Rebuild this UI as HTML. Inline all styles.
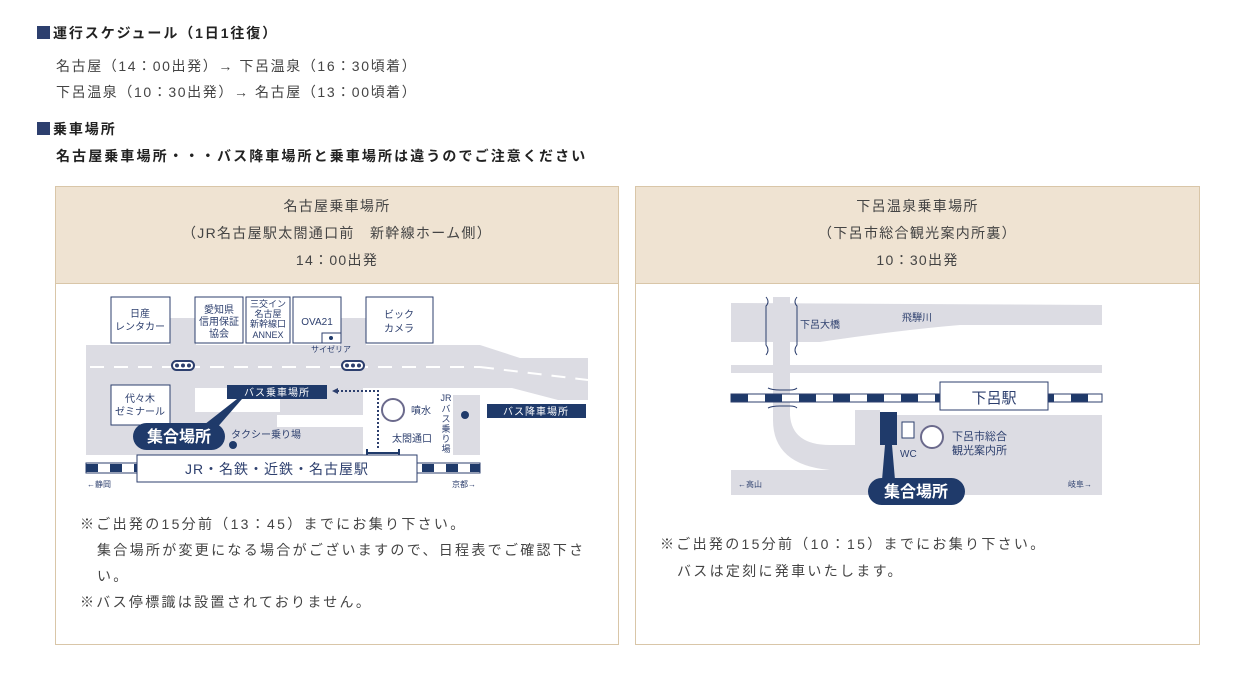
<!DOCTYPE html>
<html><head><meta charset="utf-8"><style>
body{margin:0;width:1235px;height:684px;background:#fff;position:relative;font-family:"Liberation Sans","Noto Sans CJK JP",sans-serif;color:#333;overflow:hidden}
.a{position:absolute;white-space:nowrap}
.h{font-weight:bold;font-size:14px;color:#222;letter-spacing:1.9px}
.sq{display:inline-block;width:13px;height:13px;background:#2d3f6e;vertical-align:-1px;margin-right:3px}
.t{font-size:14px;color:#444;letter-spacing:1.6px}
.box{position:absolute;border:1px solid #d9c6a8;background:#fff}
.hd{position:absolute;left:0;right:0;top:0;height:90px;background:#efe3d2;border-bottom:1px solid #d9c6a8;text-align:center;font-size:14px;color:#444;line-height:27px;padding-top:6px;letter-spacing:1.3px}
.n{font-size:14px;color:#444;letter-spacing:2.3px}
</style></head><body>
<div class="a h" style="left:37px;top:23px"><span class="sq"></span>運行スケジュール（1日1往復）</div>
<div class="a t" style="left:56px;top:56px">名古屋（14：00出発）→ 下呂温泉（16：30頃着）</div>
<div class="a t" style="left:56px;top:82px">下呂温泉（10：30出発）→ 名古屋（13：00頃着）</div>
<div class="a h" style="left:37px;top:119px"><span class="sq"></span>乗車場所</div>
<div class="a h" style="left:56px;top:146px;letter-spacing:2.1px">名古屋乗車場所・・・バス降車場所と乗車場所は違うのでご注意ください</div>

<div class="box" style="left:55px;top:186px;width:562px;height:457px">
<div class="hd">名古屋乗車場所<br>（JR名古屋駅太閤通口前　新幹線ホーム側）<br>14：00出発</div>
</div>
<div class="box" style="left:635px;top:186px;width:563px;height:457px">
<div class="hd">下呂温泉乗車場所<br>（下呂市総合観光案内所裏）<br>10：30出発</div>
</div>

<svg class="a" style="left:0;top:0" width="1235" height="684" font-family="Liberation Sans,Noto Sans CJK JP,sans-serif">
<g fill="#dcdce3">
<polygon points="86,345 480,345 520,358 588,358 588,400 558,400 512,388 86,388"/>
<rect x="86" y="345" width="26" height="110"/>
<rect x="112" y="388" width="251" height="67"/>
<rect x="453" y="395" width="27" height="60"/>
<rect x="170" y="318" width="26" height="27"/>
<rect x="340" y="318" width="26" height="27"/>
</g>
<rect x="195" y="388" width="85" height="24" fill="#fff"/>
<rect x="277" y="415" width="86" height="12" fill="#fff"/>
<g stroke="#fff" stroke-width="2" stroke-dasharray="14,10"><line x1="90" y1="367" x2="480" y2="367"/><line x1="480" y1="367" x2="588" y2="380"/></g>
<g fill="#fff" stroke="#2d3f6e" stroke-width="1">
<rect x="111" y="297" width="59" height="46"/><rect x="195" y="297" width="48" height="46"/><rect x="246" y="297" width="44" height="46"/><rect x="293" y="297" width="48" height="46"/><rect x="366" y="297" width="67" height="46"/><rect x="111" y="385" width="59" height="40"/>
<rect x="322" y="333" width="19" height="10"/>
</g>
<circle cx="331" cy="338" r="2" fill="#1f3a6a"/>
<g font-size="10" fill="#2d3f6e" text-anchor="middle">
<text x="140" y="317">日産</text><text x="140" y="330">レンタカー</text>
<text x="219" y="313">愛知県</text><text x="219" y="325">信用保証</text><text x="219" y="337">協会</text>
<text x="268" y="307" font-size="9">三交イン</text><text x="268" y="317" font-size="9">名古屋</text><text x="268" y="327" font-size="9">新幹線口</text><text x="268" y="338" font-size="9">ANNEX</text>
<text x="317" y="325">OVA21</text>
<text x="399" y="318">ビック</text><text x="399" y="332">カメラ</text>
<text x="331" y="352" font-size="8">サイゼリア</text>
<text x="140" y="402">代々木</text><text x="140" y="415">ゼミナール</text>
</g>
<g fill="#fff" stroke="#2d3f6e" stroke-width="2"><rect x="172" y="361" width="22" height="9" rx="4.5"/><rect x="342" y="361" width="22" height="9" rx="4.5"/></g>
<g fill="#2d3f6e"><circle cx="177" cy="365.5" r="2"/><circle cx="183" cy="365.5" r="2"/><circle cx="189" cy="365.5" r="2"/><circle cx="347" cy="365.5" r="2"/><circle cx="353" cy="365.5" r="2"/><circle cx="359" cy="365.5" r="2"/></g>
<rect x="227" y="385" width="100" height="14" fill="#1f3a6a"/>
<text x="277" y="396" font-size="10" fill="#fff" text-anchor="middle" letter-spacing="1">バス乗車場所</text>
<rect x="487" y="404" width="99" height="14" fill="#1f3a6a"/>
<text x="536" y="415" font-size="10" fill="#fff" text-anchor="middle" letter-spacing="1">バス降車場所</text>
<polygon points="237,399 242,399 215,430 200,428" fill="#1f3a6a"/>
<rect x="133" y="423" width="92" height="27" rx="13.5" fill="#1f3a6a"/>
<text x="179" y="442" font-size="16" font-weight="bold" fill="#fff" text-anchor="middle">集合場所</text>
<circle cx="233" cy="445" r="4" fill="#1f3a6a"/>
<text x="231" y="438" font-size="10" fill="#2d3f6e">タクシー乗り場</text>
<polyline points="378,448 378,391 336,391" fill="none" stroke="#2d3f6e" stroke-width="2" stroke-dasharray="2,2"/>
<polygon points="332,391 338,388 338,394" fill="#2d3f6e"/>
<circle cx="393" cy="410" r="11" fill="#fff" stroke="#6b6a8c" stroke-width="2"/>
<text x="411" y="414" font-size="10" fill="#2d3f6e">噴水</text>
<text x="392" y="442" font-size="10" fill="#2d3f6e">太閤通口</text>
<line x1="367" y1="453" x2="399" y2="453" stroke="#1f3a6a" stroke-width="2"/>
<line x1="367" y1="449" x2="367" y2="457" stroke="#1f3a6a" stroke-width="2"/><line x1="399" y1="449" x2="399" y2="457" stroke="#1f3a6a" stroke-width="2"/>
<circle cx="465" cy="415" r="4" fill="#1f3a6a"/>
<g font-size="9" fill="#2d3f6e" text-anchor="middle"><text x="446" y="401">JR</text><text x="446" y="412">バ</text><text x="446" y="422">ス</text><text x="446" y="432">乗</text><text x="446" y="442">り</text><text x="446" y="452">場</text></g>
<g><rect x="86" y="463" width="394" height="10" fill="#fff" stroke="#2d3f6e"/>
<line x1="86" y1="468" x2="480" y2="468" stroke="#1f3a6a" stroke-width="8" stroke-dasharray="12,12"/></g>
<rect x="137" y="455" width="280" height="27" fill="#fff" stroke="#2d3f6e"/>
<text x="277" y="474" font-size="14" fill="#2d3f6e" text-anchor="middle" letter-spacing="1">JR・名鉄・近鉄・名古屋駅</text>
<text x="87" y="487" font-size="8" fill="#2d3f6e">←静岡</text>
<text x="452" y="487" font-size="8" fill="#2d3f6e">京都→</text>

<g fill="#dcdce3">
<path d="M731,303 L1102,305 L1102,325 L960,325 Q900,330 820,342 L731,342 Z"/>
<rect x="731" y="365" width="371" height="8"/>
<rect x="773" y="297" width="17" height="100"/>
<path d="M773,397 L790,397 L790,415 Q792,445 830,445 L855,445 L855,410 L880,410 L880,415 L1102,415 L1102,495 L731,495 L731,470 L830,470 Q773,465 773,420 Z"/>
</g>
<g stroke="#2d3f6e" fill="none" stroke-width="1"><path d="M766,297 Q770,302 766,306 L766,345 Q770,350 766,355"/><path d="M797,297 Q793,302 797,306 L797,345 Q793,350 797,355"/><path d="M768,388 Q772,390 780,390 L790,390 Q795,390 797,388"/><path d="M768,408 Q772,406 780,406 L790,406 Q795,406 797,408"/></g>
<text x="800" y="328" font-size="10" fill="#2d3f6e">下呂大橋</text>
<text x="902" y="321" font-size="10" fill="#2d3f6e">飛騨川</text>
<rect x="731" y="394" width="371" height="8" fill="#fff" stroke="#2d3f6e"/>
<line x1="731" y1="398" x2="1102" y2="398" stroke="#1f3a6a" stroke-width="7" stroke-dasharray="17,17"/>
<rect x="940" y="382" width="108" height="28" fill="#fff" stroke="#2d3f6e"/>
<text x="994" y="403" font-size="15" fill="#2d3f6e" text-anchor="middle">下呂駅</text>
<rect x="880" y="412" width="17" height="33" fill="#1f3a6a"/>
<polygon points="885,445 892,445 895,480 882,480" fill="#1f3a6a"/>
<rect x="902" y="422" width="12" height="16" fill="#fff" stroke="#2d3f6e"/>
<text x="900" y="457" font-size="10" fill="#2d3f6e">WC</text>
<circle cx="932" cy="437" r="11" fill="#fff" stroke="#6b6a8c" stroke-width="2"/>
<text x="952" y="440" font-size="11" fill="#2d3f6e">下呂市総合</text>
<text x="952" y="454" font-size="11" fill="#2d3f6e">観光案内所</text>
<rect x="868" y="478" width="97" height="27" rx="13.5" fill="#1f3a6a"/>
<text x="916" y="497" font-size="16" font-weight="bold" fill="#fff" text-anchor="middle">集合場所</text>
<text x="738" y="487" font-size="8" fill="#2d3f6e">←高山</text>
<text x="1068" y="487" font-size="8" fill="#2d3f6e">岐阜→</text>
</svg>

<div class="a n" style="left:80px;top:514px">※ご出発の15分前（13：45）までにお集り下さい。</div>
<div class="a n" style="left:97px;top:540px">集合場所が変更になる場合がございますので、日程表でご確認下さ</div>
<div class="a n" style="left:97px;top:566px">い。</div>
<div class="a n" style="left:80px;top:592px">※バス停標識は設置されておりません。</div>
<div class="a n" style="left:660px;top:534px">※ご出発の15分前（10：15）までにお集り下さい。</div>
<div class="a n" style="left:677px;top:561px">バスは定刻に発車いたします。</div>
</body></html>
